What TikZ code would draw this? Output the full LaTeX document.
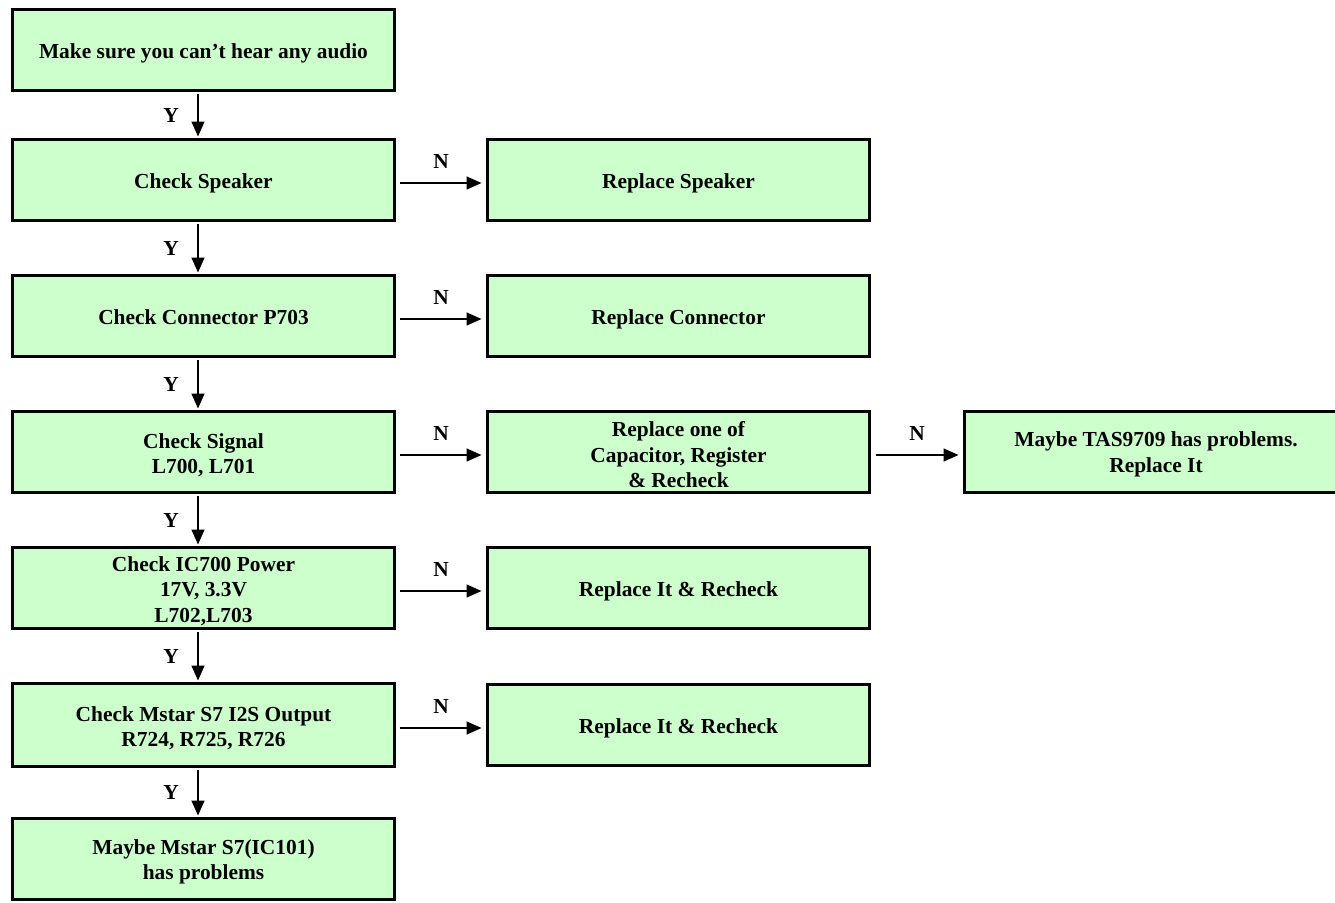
\documentclass[tikz,border=0pt]{standalone}
\usepackage{fontspec}
\setmainfont{Liberation Serif}
\usetikzlibrary{arrows.meta}
\begin{document}
\begin{tikzpicture}[x=1pt,y=-1pt,
  box/.style={draw=black, line width=3pt, fill={rgb,255:red,204;green,255;blue,204},
    minimum width=382pt, minimum height=81pt, inner sep=0pt, outer sep=0pt},
  txt/.style={align=center, inner sep=0pt, yshift=-3pt, font=\fontsize{21.4}{25.5}\selectfont\bfseries},
  arr/.style={line width=1.5pt, -{Triangle[length=15pt,width=13pt]}},
  lab/.style={font=\fontsize{21.4}{25.5}\selectfont\bfseries, inner sep=0pt}]
\path[use as bounding box, clip] (0,0) rectangle (1335,902);

\node[box, label={[txt]center:{Make sure you can’t hear any audio}}] (b1) at (203.5,50) {};
\node[box, label={[txt]center:{Check Speaker}}] (b2) at (203.5,180) {};
\node[box, label={[txt, yshift=2pt]center:{Check Connector P703}}] (b3) at (203.5,316) {};
\node[box, label={[txt]center:{Check Signal\\L700, L701}}] (b4) at (203.5,452) {};
\node[box, label={[txt]center:{Check IC700 Power\\17V, 3.3V\\L702,L703}}] (b5) at (203.5,588) {};
\node[box, minimum height=83pt, label={[txt]center:{Check Mstar S7 I2S Output\\R724, R725, R726}}] (b6) at (203.5,725) {};
\node[box, label={[txt]center:{Maybe Mstar S7(IC101)\\has problems}}] (b7) at (203.5,859) {};

\node[box, label={[txt]center:{Replace Speaker}}] (m2) at (678.5,180) {};
\node[box, label={[txt]center:{Replace Connector}}] (m3) at (678.5,316) {};
\node[box, label={[txt]center:{Replace one of\\Capacitor, Register\\\& Recheck}}] (m4) at (678.5,452) {};
\node[box, label={[txt]center:{Replace It \& Recheck}}] (m5) at (678.5,588) {};
\node[box, label={[txt]center:{Replace It \& Recheck}}] (m6) at (678.5,725) {};

\node[box, minimum width=383pt, label={[txt]center:{Maybe TAS9709 has problems.\\Replace It}}] (r4) at (1156,451.5) {};

\foreach \a/\b in {b1/b2,b2/b3,b3/b4,b4/b5,b5/b6,b6/b7}{
  \draw[arr, shorten <=3.5pt, shorten >=3pt] ([xshift=-5.5pt]\a.south) -- ([xshift=-5.5pt]\b.north)
    node[lab, midway, xshift=-27pt] {Y};
}
\foreach \a/\b in {b2/m2,b3/m3,b4/m4,b5/m5,b6/m6}{
  \draw[arr, shorten <=5pt, shorten >=6pt] ([yshift=-3pt]\a.east) -- ([yshift=-3pt]\b.west)
    node[lab, midway, yshift=22pt] {N};
}
\draw[arr, shorten <=6pt, shorten >=6pt] ([yshift=-3pt]m4.east) -- ([yshift=-3.5pt]r4.west)
  node[lab, midway, yshift=22pt] {N};
\end{tikzpicture}
\end{document}
